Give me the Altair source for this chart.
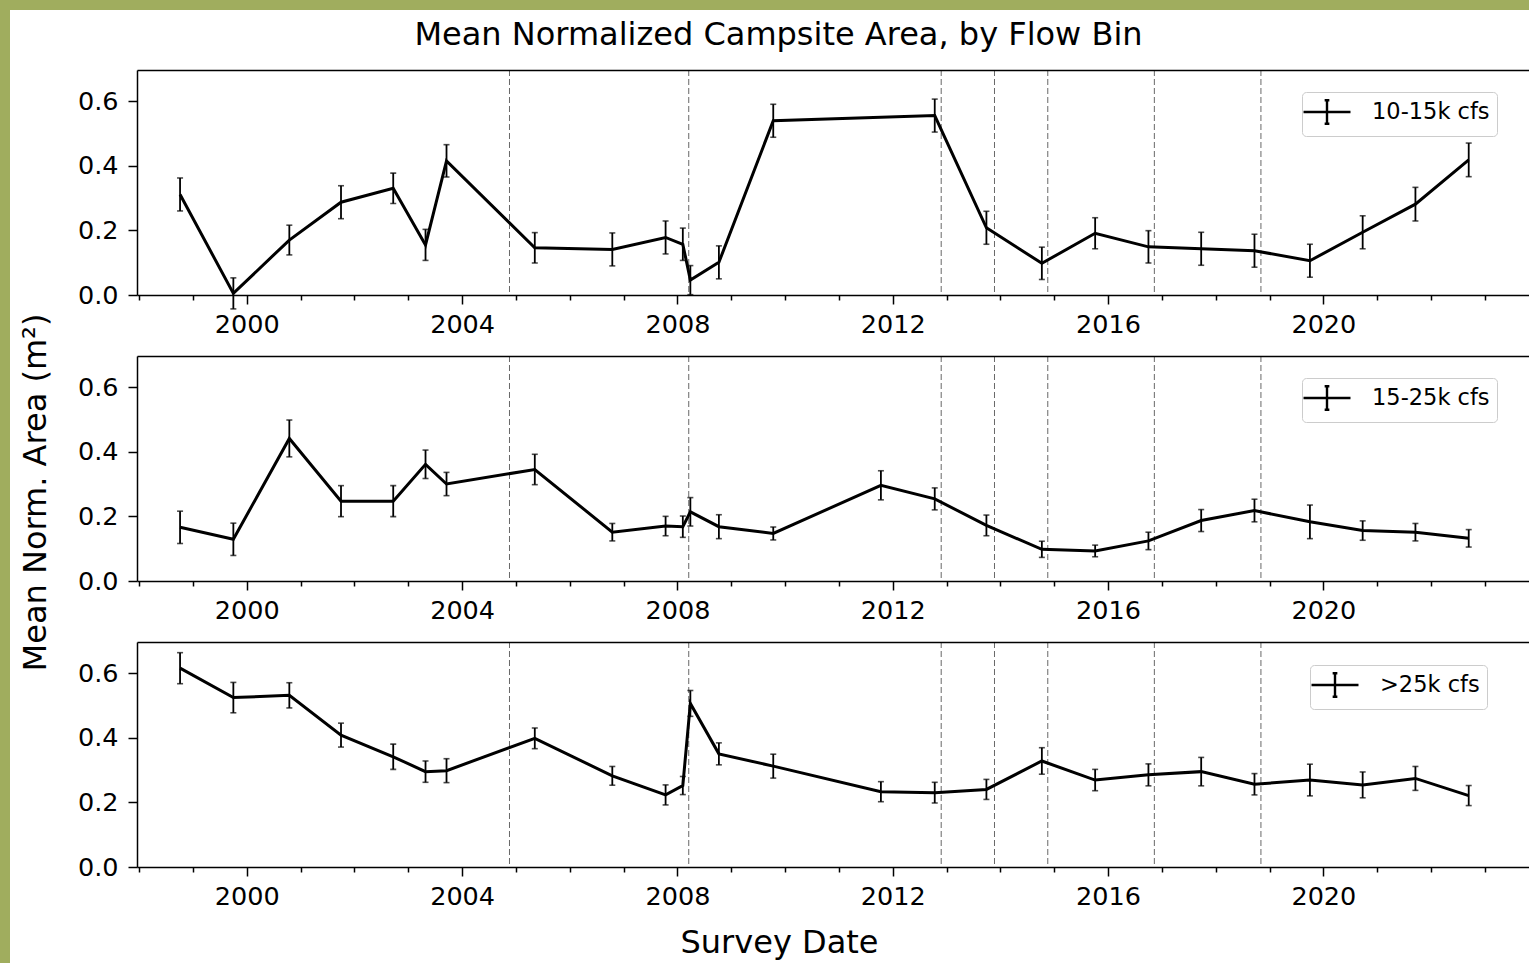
import altair as alt
import pandas as pd

TITLE = "Mean Normalized Campsite Area, by Flow Bin"
Y_TITLE = "Mean Norm. Area (m²)"
X_TITLE = "Survey Date"
BINS = ["10-15k cfs", "15-25k cfs", ">25k cfs"]

# survey dates (decimal years)
dates_all = [1998.76, 1999.75, 2000.79, 2001.75, 2002.72, 2003.32, 2003.71, 2005.35,
             2006.79, 2007.78, 2008.10, 2008.24, 2008.77, 2009.78, 2011.78, 2012.78,
             2013.74, 2014.77, 2015.76, 2016.75, 2017.73, 2018.72, 2019.75, 2020.73,
             2021.71, 2022.70]
dates_1 = [d for d in dates_all if d != 2011.78]

mean_1 = [0.311, 0.005, 0.170, 0.287, 0.330, 0.155, 0.415, 0.146, 0.141, 0.178, 0.157,
          0.046, 0.101, 0.539, 0.555, 0.208, 0.098, 0.191, 0.149, 0.143, 0.137, 0.106,
          0.194, 0.281, 0.418]
err_1 = [0.051, 0.048, 0.046, 0.051, 0.047, 0.048, 0.050, 0.047, 0.051, 0.051, 0.050,
         0.045, 0.051, 0.051, 0.051, 0.051, 0.050, 0.048, 0.050, 0.051, 0.051, 0.051,
         0.051, 0.052, 0.052]

mean_2 = [0.166, 0.129, 0.441, 0.247, 0.247, 0.361, 0.300, 0.345, 0.151, 0.170, 0.168,
          0.214, 0.168, 0.147, 0.296, 0.254, 0.172, 0.098, 0.093, 0.124, 0.187, 0.218,
          0.183, 0.156, 0.151, 0.132]
err_2 = [0.050, 0.050, 0.057, 0.048, 0.048, 0.044, 0.036, 0.047, 0.027, 0.030, 0.033,
         0.044, 0.037, 0.020, 0.045, 0.034, 0.032, 0.025, 0.018, 0.027, 0.034, 0.035,
         0.052, 0.030, 0.027, 0.027]

mean_3 = [0.615, 0.524, 0.531, 0.408, 0.341, 0.295, 0.298, 0.398, 0.282, 0.223, 0.252,
          0.506, 0.350, 0.312, 0.233, 0.230, 0.240, 0.328, 0.269, 0.285, 0.295, 0.256,
          0.269, 0.254, 0.274, 0.221]
err_3 = [0.048, 0.047, 0.039, 0.037, 0.039, 0.033, 0.037, 0.032, 0.029, 0.031, 0.028,
         0.040, 0.034, 0.037, 0.031, 0.032, 0.031, 0.041, 0.033, 0.034, 0.044, 0.033,
         0.049, 0.040, 0.037, 0.031]

# dashed reference lines (high-flow events)
hfe_dates = [2004.88, 2008.21, 2012.90, 2013.89, 2014.88, 2016.86, 2018.84]

x_ticks = list(range(1998, 2024))
y_ticks = [0.0, 0.2, 0.4, 0.6]

FONT = "DejaVu Sans"
W, H = 1392, 225
X_DOMAIN = [1997.96, 2023.82]
Y_DOMAIN = [0.0, 0.696]
# legend glyph: a line with an error bar, 4 units wide and 2 tall
LEGEND_SYMBOL = "M-2,0L2,0M0,-1L0,1M-0.2,-1L0.2,-1M-0.2,1L0.2,1"


def panel(idx, dates, means, errs, leg_x, leg_y, first=False, ytitle=False, xtitle=False):
    df = pd.DataFrame({
        "date": dates,
        "mean": means,
        "lo": [m - e for m, e in zip(means, errs)],
        "hi": [m + e for m, e in zip(means, errs)],
        "bin": BINS[idx],
    })
    xs = alt.Scale(domain=X_DOMAIN, nice=False, zero=False)
    ys = alt.Scale(domain=Y_DOMAIN, nice=False, zero=False)

    bottom_kw = dict(
        orient="bottom", values=x_ticks,
        labelExpr="datum.value % 4 === 0 ? format(datum.value, 'd') : ''",
        tickSize={"condition": {"test": "datum.value % 4 === 0", "value": 9}, "value": 5},
        tickColor="black", tickWidth=1.5, domainColor="black", domainWidth=1.5,
        labelFont=FONT, labelFontSize=25.5, labelColor="black", labelPadding=8,
        labelOverlap=False, labelFlush=False, grid=False, zindex=1,
    )
    if xtitle:
        bottom_kw.update(title=X_TITLE, titleFont=FONT, titleFontSize=32,
                         titleFontWeight="normal", titleColor="black",
                         titleX=642, titleY=85, titleBaseline="alphabetic",
                         titleAlign="center")
    else:
        bottom_kw.update(title=None)
    bottom_axis = alt.Axis(**bottom_kw)

    left_kw = dict(
        orient="left", values=y_ticks, format=".1f", tickSize=9, tickColor="black",
        tickWidth=1.5, domainColor="black", domainWidth=1.5, labelFont=FONT,
        labelFontSize=25.5, labelColor="black", labelPadding=10, grid=False, zindex=1,
    )
    if ytitle:
        left_kw.update(title=Y_TITLE, titleFont=FONT, titleFontSize=32,
                       titleFontWeight="normal", titleColor="black", titleAngle=270,
                       titleX=-92, titleY=136, titleBaseline="alphabetic",
                       titleAlign="center")
    else:
        left_kw.update(title=None)
    left_axis = alt.Axis(**left_kw)

    top_axis = alt.Axis(orient="top", ticks=False, labels=False, domain=True,
                        domainColor="black", domainWidth=1.5, title=None, grid=False,
                        zindex=1)

    layers = []
    if first:
        layers.append(
            alt.Chart(alt.Data(values=[{"bg": 1}])).mark_rect(color="white").encode(
                x=alt.value(-127), x2=alt.value(W), y=alt.value(-60), y2=alt.value(893)
            )
        )
    layers.append(
        alt.Chart(pd.DataFrame({"hfe": hfe_dates})).mark_rule(
            color="#4d4d4d", strokeDash=[6, 3], strokeWidth=1, opacity=0.85
        ).encode(x=alt.X("hfe:Q", scale=xs, axis=top_axis))
    )
    base = alt.Chart(df)
    layers.append(
        base.mark_rule(color="black", strokeWidth=1.8).encode(
            x=alt.X("date:Q", scale=xs, axis=None),
            y=alt.Y("lo:Q", scale=ys, axis=None),
            y2="hi:Q",
        )
    )
    for col in ["lo", "hi"]:
        layers.append(
            base.mark_tick(orient="horizontal", color="black", size=6, thickness=1.6).encode(
                x=alt.X("date:Q", scale=xs, axis=None),
                y=alt.Y(f"{col}:Q", scale=ys, axis=None),
            )
        )
    legend = alt.Legend(
        title=None, orient="none", legendX=leg_x, legendY=leg_y,
        symbolType=LEGEND_SYMBOL, symbolSize=552, symbolStrokeWidth=2.4,
        symbolOffset=5, labelFont=FONT, labelFontSize=22.5, labelColor="black",
        labelOffset=32, padding=7, fillColor="white", strokeColor="#cccccc",
        cornerRadius=4, labelLimit=400,
    )
    layers.append(
        base.mark_line(strokeWidth=3).encode(
            x=alt.X("date:Q", scale=xs, axis=bottom_axis),
            y=alt.Y("mean:Q", scale=ys, axis=left_axis),
            stroke=alt.Stroke("bin:N", scale=alt.Scale(range=["black"]), legend=legend),
        )
    )
    if first:
        layers.append(
            alt.Chart(alt.Data(values=[{"t": TITLE}])).mark_text(
                font=FONT, fontSize=32, color="black", align="center", baseline="alphabetic"
            ).encode(text="t:N", x=alt.value(641.5), y=alt.value(-25.5))
        )
    return alt.layer(*layers).resolve_axis(x="independent", y="independent").properties(
        width=W, height=H
    )


p1 = panel(0, dates_1, mean_1, err_1, 1165, 22, first=True)
p2 = panel(1, dates_all, mean_2, err_2, 1165, 22, ytitle=True)
p3 = panel(2, dates_all, mean_3, err_3, 1173, 23, xtitle=True)

chart = alt.vconcat(p1, p2, p3, spacing=61, bounds="flush").resolve_scale(
    stroke="independent"
).resolve_legend(stroke="independent").properties(
    background="#a0ad5e",
    padding={"left": 10, "top": 10, "right": 0, "bottom": 0},
).configure_view(strokeWidth=0)

chart.save("out.html", embed_options={"renderer": "svg", "actions": False})
